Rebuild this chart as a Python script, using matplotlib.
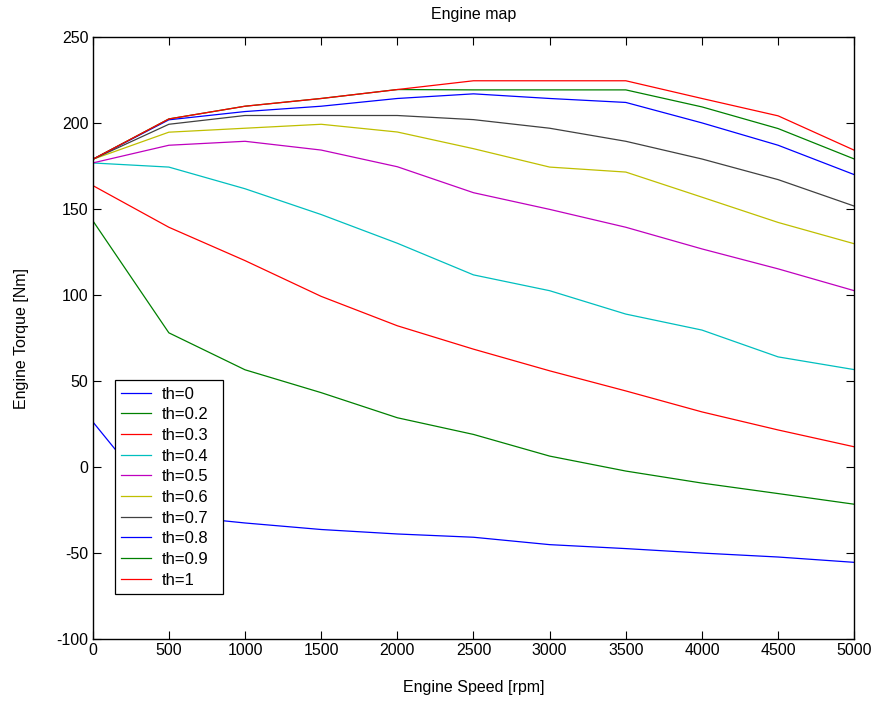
import matplotlib
matplotlib.use("Agg")
import matplotlib.pyplot as plt
import numpy as np

plt.rcParams['font.family'] = ['Liberation Sans', 'DejaVu Sans']
plt.rcParams['axes.unicode_minus'] = False

speed = [0, 500, 1000, 1500, 2000, 2500, 3000, 3500, 4000, 4500, 5000]
labels = ["th=0", "th=0.2", "th=0.3", "th=0.4", "th=0.5", "th=0.6",
          "th=0.7", "th=0.8", "th=0.9", "th=1"]

th_0 = [26.4, -28.0, -32.5, -36.3, -38.9, -40.8, -45.1, -47.4, -50.0, -52.3, -55.4]
th_02 = [143.4, 78.1, 56.6, 43.3, 28.7, 19.0, 6.4, -2.3, -9.3, -15.4, -21.6]
th_03 = [163.8, 139.5, 120.1, 99.3, 82.2, 68.6, 56.0, 44.3, 32.1, 21.6, 11.8]
th_04 = [176.9, 174.5, 161.9, 146.9, 130.2, 111.8, 102.6, 89.0, 79.7, 64.1, 56.7]
th_05 = [176.9, 187.2, 189.5, 184.4, 174.7, 159.6, 149.9, 139.5, 126.9, 115.3, 102.6]
th_06 = [179.0, 194.8, 197.1, 199.4, 194.9, 185.2, 174.5, 171.6, 157.0, 142.3, 129.9]
th_07 = [179.0, 199.4, 204.5, 204.5, 204.5, 202.1, 197.1, 189.5, 179.2, 167.2, 151.8]
th_08 = [179.0, 202.0, 206.8, 209.9, 214.4, 217.1, 214.4, 212.1, 200.2, 187.2, 170.1]
th_09 = [179.0, 202.5, 209.9, 214.4, 219.6, 219.4, 219.4, 219.4, 209.5, 196.9, 179.2]
th_1 = [179.0, 202.5, 209.9, 214.4, 219.6, 224.7, 224.7, 224.7, 214.4, 204.3, 184.3]

series = [th_0, th_02, th_03, th_04, th_05, th_06, th_07, th_08, th_09, th_1]
colors = ['#0000ff', '#008000', '#ff0000', '#00bfbf', '#bf00bf', '#bfbf00',
          '#404040', '#0000ff', '#008000', '#ff0000']

fs = 11.5

fig = plt.figure(figsize=(8.77, 7.02), dpi=100)
ax = fig.add_axes([0.1057, 0.0897, 0.8684, 0.8572])

for vals, c, lab in zip(series, colors, labels):
    ax.plot(speed, vals, color=c, linewidth=0.9, label=lab)

ax.set_xlim(0, 5000)
ax.set_ylim(-100, 250)
ax.set_xticks(np.arange(0, 5001, 500))
ax.set_yticks(np.arange(-100, 251, 50))
ax.tick_params(direction='in', length=5.5, width=0.8, top=True, right=True,
               labelsize=fs, pad=3, colors='black')
for s in ax.spines.values():
    s.set_linewidth(1.0)

ax.set_title("Engine map", fontsize=fs, pad=13)
ax.set_xlabel("Engine Speed [rpm]", fontsize=fs, labelpad=16)
ax.set_ylabel("Engine Torque [Nm]", fontsize=fs, labelpad=20)

leg = ax.legend(loc='lower left', bbox_to_anchor=(0.029, 0.075, 0.142, 0.35),
                mode='expand', fontsize=12,
                frameon=True, fancybox=False, edgecolor='black', framealpha=1,
                handlelength=1.8, handletextpad=0.65, labelspacing=0.34,
                borderpad=0.38, borderaxespad=0)
leg.get_frame().set_linewidth(0.9)

fig.savefig("out.png", dpi=100)
